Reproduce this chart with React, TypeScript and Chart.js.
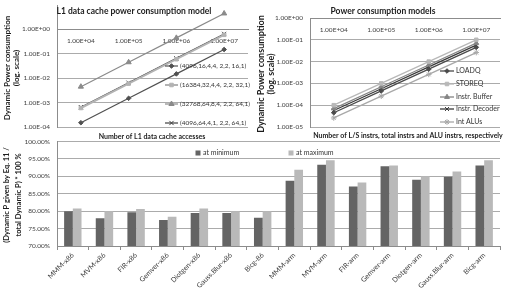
import React, { useEffect, useRef } from 'react';
import { Chart, registerables } from 'chart.js';
import { drawPoint } from 'chart.js/helpers';

Chart.register(...registerables);

// ---------- data ----------
const cacheCategories = ['1.00E+04', '1.00E+05', '1.00E+06', '1.00E+07'];
const cacheLabels = [
  '(4096,16,4,4, 2,2, 16,1)',
  '(16384,32,4,4, 2,2, 32,1)',
  '(32768,64,8,4, 2,2, 64,1)',
  '(4096,64,4,1, 2,2, 64,1)',
];
const cacheS1 = [1.5e-4, 1.5e-3, 1.5e-2, 1.5e-1];
const cacheS2 = [6.0e-4, 6.0e-3, 6.0e-2, 6.0e-1];
const cacheS3 = [4.5e-3, 4.5e-2, 4.5e-1, 4.5];
const cacheS4 = [6.5e-4, 6.5e-3, 6.5e-2, 6.5e-1];
const cacheTicks = [1e-4, 1e-3, 1e-2, 1e-1, 1];

const modelCategories = ['1.00E+04', '1.00E+05', '1.00E+06', '1.00E+07'];
const modelLabels = ['LOADQ', 'STOREQ', 'Instr. Buffer', 'Instr. Decoder', 'Int ALUs'];
const loadq = [4.5e-5, 4.5e-4, 4.5e-3, 4.5e-2];
const storeq = [1.0e-4, 1.0e-3, 1.0e-2, 1.0e-1];
const instrBuffer = [7.0e-5, 7.0e-4, 7.0e-3, 7.0e-2];
const instrDecoder = [5.7e-5, 5.7e-4, 5.7e-3, 5.7e-2];
const intAlus = [2.6e-5, 2.6e-4, 2.6e-3, 2.6e-2];
const modelTicks = [1e-5, 1e-4, 1e-3, 1e-2, 1e-1, 1];

const benchmarks = [
  'MMM-x86', 'MVM-x86', 'FIR-x86', 'Gemver-x86', 'Diotgen-x86', 'Gauss.Blur-x86', 'Bicg-86',
  'MMM-arm', 'MVM-arm', 'FIR-arm', 'Gemver-arm', 'Diotgen-arm', 'Gauss.Blur-arm', 'Bicg-arm',
];
const atMinimum = [80.0, 78.0, 79.7, 77.5, 79.5, 79.5, 78.1, 88.7, 93.3, 87.1, 92.9, 89.0, 89.9, 93.1];
const atMaximum = [80.8, 80.0, 80.6, 78.4, 80.8, 80.0, 80.0, 91.9, 94.6, 88.2, 93.1, 90.0, 91.4, 94.6];
const percentTicks = [70, 75, 80, 85, 90, 95, 100];

// ---------- styles ----------
const FONT = 'Lato, "Open Sans", "DejaVu Sans", sans-serif';
const GRID = '#ababab';
const AXIS = '#8c8c8c';
const TICK = '#404040';
const TITLE = '#1c1c1c';

function sci(v: number): string {
  const e = Math.round(Math.log10(v));
  const m = v / Math.pow(10, e);
  const sign = e < 0 ? '-' : '+';
  return m.toFixed(2) + 'E' + sign + String(Math.abs(e)).padStart(2, '0');
}

type TextItem = { text: string; x: number; y: number; rot?: number; font: string; color?: string; align?: CanvasTextAlign };
type LegendSpec = { kind: 'line' | 'box'; xs: number[]; ys: number[]; textXs: number[]; len: number; font: string; color: string };

function overlay(texts: TextItem[], legend?: LegendSpec) {
  return {
    id: 'overlay',
    afterDraw(chart: any) {
      const ctx: CanvasRenderingContext2D = chart.ctx;
      ctx.save();
      if (legend) {
        chart.data.datasets.forEach((ds: any, i: number) => {
          const y = legend.ys[i];
          const x = legend.xs[i];
          if (legend.kind === 'line') {
            ctx.strokeStyle = ds.borderColor;
            ctx.lineWidth = ds.borderWidth;
            ctx.beginPath();
            ctx.moveTo(x, y);
            ctx.lineTo(x + legend.len, y);
            ctx.stroke();
            ctx.fillStyle = ds.pointBackgroundColor;
            ctx.strokeStyle = ds.borderColor;
            ctx.lineWidth = 1;
            drawPoint(ctx, { pointStyle: ds.pointStyle, radius: ds.pointRadius, rotation: 0, borderWidth: 1 } as any, x + legend.len / 2, y);
          } else {
            ctx.fillStyle = ds.backgroundColor;
            ctx.fillRect(x - 2.5, y - 2.5, 5, 5);
          }
          ctx.font = legend.font;
          ctx.fillStyle = legend.color;
          ctx.textAlign = 'left';
          ctx.textBaseline = 'middle';
          ctx.fillText(ds.label, legend.textXs[i], y);
        });
      }
      for (const t of texts) {
        ctx.save();
        ctx.translate(t.x, t.y);
        if (t.rot) ctx.rotate(t.rot);
        ctx.font = t.font;
        ctx.fillStyle = t.color || TITLE;
        ctx.textAlign = t.align || 'center';
        ctx.textBaseline = 'middle';
        ctx.fillText(t.text, 0, 0);
        ctx.restore();
      }
      ctx.restore();
    },
  };
}

function lineDs(label: string, data: number[], color: string, fill: string, style: string, radius: number, width: number) {
  return {
    label,
    data,
    borderColor: color,
    backgroundColor: fill,
    pointBackgroundColor: fill,
    pointBorderColor: color,
    pointStyle: style,
    pointRadius: radius,
    pointBorderWidth: 1,
    borderWidth: width,
    tension: 0,
    fill: false,
  };
}

function logOptions(ticks: number[], min: number, max: number, padding: any) {
  return {
    animation: false,
    responsive: false,
    maintainAspectRatio: false,
    layout: { padding },
    plugins: { legend: { display: false }, tooltip: { enabled: false }, title: { display: false } },
    scales: {
      x: {
        type: 'category',
        position: { y: 1 },
        offset: true,
        grid: { display: false, drawTicks: false },
        border: { display: true, color: AXIS },
        ticks: { font: { family: FONT, size: 6.5 }, color: TICK, padding: 8, maxRotation: 0, autoSkip: false },
        afterFit: (s: any) => { s.height = 0; s.paddingLeft = 0; s.paddingRight = 0; },
      },
      y: {
        type: 'logarithmic',
        min,
        max,
        afterBuildTicks: (s: any) => { s.ticks = ticks.map((v) => ({ value: v })); },
        ticks: { callback: (v: any) => sci(Number(v)), font: { family: FONT, size: 6.5 }, color: TICK, padding: 7 },
        grid: { color: GRID, drawTicks: false },
        border: { color: AXIS },
        afterFit: (s: any) => { s.width = 57; s.paddingTop = 0; s.paddingBottom = 0; },
      },
    },
  };
}

export default function App() {
  const refA = useRef<HTMLCanvasElement>(null);
  const refB = useRef<HTMLCanvasElement>(null);
  const refC = useRef<HTMLCanvasElement>(null);

  useEffect(() => {
    document.body.style.margin = '0';
    const charts: Chart[] = [];

    // ---- chart A: L1 data cache ----
    const textsA: TextItem[] = [
      { text: 'L1 data cache power consumption model', x: 134, y: 11, font: `bold 8.5px ${FONT}` },
      { text: 'Dynamic Power consumption', x: 7, y: 68, rot: -Math.PI / 2, font: `bold 8px ${FONT}` },
      { text: '(log. scale)', x: 16, y: 68, rot: -Math.PI / 2, font: `bold 8px ${FONT}` },
      { text: 'Number of L1 data cache accesses', x: 152, y: 137, font: `bold 7px ${FONT}` },
    ];
    const legendA: LegendSpec = {
      kind: 'line', xs: [165, 165, 165, 165], ys: [66, 85, 104, 123], textXs: [180, 180, 180, 180], len: 13,
      font: `6.5px ${FONT}`, color: '#333',
    };
    charts.push(new Chart(refA.current!, {
      type: 'line',
      data: {
        labels: cacheCategories,
        datasets: [
          lineDs(cacheLabels[0], cacheS1, '#505050', '#505050', 'rectRot', 2.3, 1.2),
          lineDs(cacheLabels[1], cacheS2, '#b3b3b3', '#b3b3b3', 'rect', 2.5, 2),
          lineDs(cacheLabels[2], cacheS3, '#8a8a8a', '#8a8a8a', 'triangle', 3, 1.2),
          lineDs(cacheLabels[3], cacheS4, '#3f3f3f', '#3f3f3f', 'crossRot', 3, 1.2),
        ] as any,
      },
      options: logOptions(cacheTicks, 1e-4, 10, { left: 0, top: 2, right: 4, bottom: 18 }) as any,
      plugins: [overlay(textsA, legendA)],
    }));

    // ---- chart B: power consumption models ----
    const textsB: TextItem[] = [
      { text: 'Power consumption models', x: 130, y: 11, font: `bold 8.5px ${FONT}` },
      { text: 'Dynamic Power consumption', x: 8, y: 74, rot: -Math.PI / 2, font: `bold 9px ${FONT}` },
      { text: '(log. scale)', x: 18, y: 74, rot: -Math.PI / 2, font: `bold 9px ${FONT}` },
      { text: 'Number of L/S instrs, total instrs and ALU instrs, respectively', x: 155, y: 136, font: `bold 7px ${FONT}` },
    ];
    const legendB: LegendSpec = {
      kind: 'line', xs: [187, 187, 187, 187, 187], ys: [71, 84, 97, 109, 122], textXs: [203, 203, 203, 203, 203], len: 14,
      font: `7px ${FONT}`, color: '#333',
    };
    charts.push(new Chart(refB.current!, {
      type: 'line',
      data: {
        labels: modelCategories,
        datasets: [
          lineDs(modelLabels[0], loadq, '#4a4a4a', '#4a4a4a', 'rectRot', 2.3, 1.3),
          lineDs(modelLabels[1], storeq, '#b8b8b8', '#b8b8b8', 'rect', 2.5, 1.3),
          lineDs(modelLabels[2], instrBuffer, '#848484', '#848484', 'triangle', 2.8, 1.3),
          lineDs(modelLabels[3], instrDecoder, '#3a3a3a', '#3a3a3a', 'crossRot', 2.8, 1.3),
          lineDs(modelLabels[4], intAlus, '#a8a8a8', '#a8a8a8', 'star', 2.8, 1.3),
        ] as any,
      },
      options: logOptions(modelTicks, 1e-5, 1, { left: 0, top: 18, right: 7, bottom: 18 }) as any,
      plugins: [overlay(textsB, legendB)],
    }));

    // ---- chart C: bars ----
    const textsC: TextItem[] = [
      { text: '(Dynamic P given by Eq. 11 /', x: 7, y: 55, rot: -Math.PI / 2, font: `bold 7.5px ${FONT}` },
      { text: 'total Dynamic P) * 100 %', x: 19, y: 55, rot: -Math.PI / 2, font: `bold 7.5px ${FONT}` },
    ];
    const legendC: LegendSpec = {
      kind: 'box', xs: [198, 291], ys: [13, 13], textXs: [203, 296], len: 5,
      font: `7px ${FONT}`, color: '#333',
    };
    charts.push(new Chart(refC.current!, {
      type: 'bar',
      data: {
        labels: benchmarks,
        datasets: [
          { label: 'at minimum', data: atMinimum, backgroundColor: '#646464', borderColor: '#5a5a5a', borderWidth: 0, categoryPercentage: 0.55, barPercentage: 1 },
          { label: 'at maximum', data: atMaximum, backgroundColor: '#b9b9b9', borderColor: '#d0d0d0', borderWidth: 0, categoryPercentage: 0.55, barPercentage: 1 },
        ] as any,
      },
      options: {
        animation: false,
        responsive: false,
        maintainAspectRatio: false,
        layout: { padding: { left: 0, top: 1.5, right: 7, bottom: 0 } },
        plugins: { legend: { display: false }, tooltip: { enabled: false }, title: { display: false } },
        scales: {
          x: {
            grid: { display: true, drawOnChartArea: false, drawTicks: true, tickLength: 4, offset: true, color: AXIS },
            border: { color: AXIS },
            ticks: { minRotation: 45, maxRotation: 45, autoSkip: false, font: { family: FONT, size: 7 }, color: TICK, padding: 1 },
            afterFit: (s: any) => { s.height = 48; s.paddingLeft = 0; s.paddingRight = 0; },
          },
          y: {
            min: 70,
            max: 100,
            afterBuildTicks: (s: any) => { s.ticks = percentTicks.map((v) => ({ value: v })); },
            ticks: { callback: (v: any) => Number(v).toFixed(2) + '%', font: { family: FONT, size: 6.5 }, color: TICK, padding: 7 },
            grid: { color: GRID, drawTicks: false },
            border: { color: AXIS },
            afterFit: (s: any) => { s.width = 57; s.paddingTop = 0; s.paddingBottom = 0; },
          },
        },
      } as any,
      plugins: [overlay(textsC, legendC)],
    }));

    return () => { charts.forEach((c) => c.destroy()); };
  }, []);

  return (
    <div style={{ position: 'fixed', left: 0, top: 0, width: 507, height: 294, background: '#fff' }}>
      <canvas ref={refA} width={253} height={145} style={{ position: 'absolute', left: 0, top: 0, width: 253, height: 145 }} />
      <canvas ref={refB} width={254} height={145} style={{ position: 'absolute', left: 253, top: 0, width: 254, height: 145 }} />
      <canvas ref={refC} width={507} height={154} style={{ position: 'absolute', left: 0, top: 140, width: 507, height: 154 }} />
    </div>
  );
}
